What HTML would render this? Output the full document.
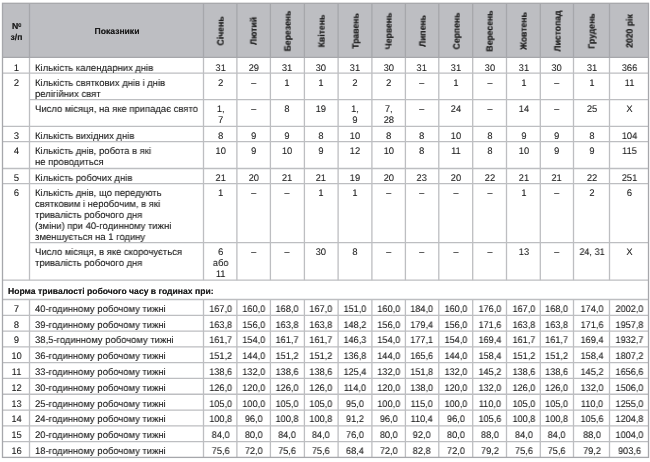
<!DOCTYPE html>
<html><head><meta charset="utf-8"><style>
html,body{margin:0;padding:0;background:#fff;width:650px;height:462px;overflow:hidden;position:relative}
svg{position:absolute;left:0;top:0}
.t,.h{position:absolute;will-change:transform;text-rendering:geometricPrecision;font-family:"Liberation Sans",sans-serif;color:#1e1e1e;white-space:nowrap}
.t{font-size:9.6px;line-height:10.8px;text-shadow:0 0 0.5px rgba(0,0,0,.35)}
.n{transform:scaleX(0.95);text-align:center} .c{transform-origin:50% 0}
.lb{transform:scaleX(0.985)} .l{transform-origin:0 0}
.h{font-size:8.6px;font-weight:bold;line-height:10.8px;text-shadow:0 0 0.6px rgba(0,0,0,.6)}
.rot{font-size:9.2px;transform:translate(-50%,-50%) rotate(-90deg) scaleX(0.94);transform-origin:50% 50%}
</style></head><body>
<svg width="650" height="462" viewBox="0 0 650 462"><rect x="2.5" y="3.3" width="646" height="54.1" fill="#bdbec2"/><line x1="29.5" y1="3.3" x2="29.5" y2="57.4" stroke="#a6a7ab" stroke-width="1.3"/><line x1="203.5" y1="3.3" x2="203.5" y2="57.4" stroke="#a6a7ab" stroke-width="1.3"/><line x1="236.9" y1="3.3" x2="236.9" y2="57.4" stroke="#a6a7ab" stroke-width="1.3"/><line x1="270.4" y1="3.3" x2="270.4" y2="57.4" stroke="#a6a7ab" stroke-width="1.3"/><line x1="304.4" y1="3.3" x2="304.4" y2="57.4" stroke="#a6a7ab" stroke-width="1.3"/><line x1="338.1" y1="3.3" x2="338.1" y2="57.4" stroke="#a6a7ab" stroke-width="1.3"/><line x1="371.9" y1="3.3" x2="371.9" y2="57.4" stroke="#a6a7ab" stroke-width="1.3"/><line x1="405.4" y1="3.3" x2="405.4" y2="57.4" stroke="#a6a7ab" stroke-width="1.3"/><line x1="438.8" y1="3.3" x2="438.8" y2="57.4" stroke="#a6a7ab" stroke-width="1.3"/><line x1="472.7" y1="3.3" x2="472.7" y2="57.4" stroke="#a6a7ab" stroke-width="1.3"/><line x1="506.5" y1="3.3" x2="506.5" y2="57.4" stroke="#a6a7ab" stroke-width="1.3"/><line x1="540.3" y1="3.3" x2="540.3" y2="57.4" stroke="#a6a7ab" stroke-width="1.3"/><line x1="573.5" y1="3.3" x2="573.5" y2="57.4" stroke="#a6a7ab" stroke-width="1.3"/><line x1="609.5" y1="3.3" x2="609.5" y2="57.4" stroke="#a6a7ab" stroke-width="1.3"/><line x1="29.5" y1="57.4" x2="29.5" y2="280.2" stroke="#bdbec1" stroke-width="1.3"/><line x1="29.5" y1="299.5" x2="29.5" y2="457.4" stroke="#bdbec1" stroke-width="1.3"/><line x1="203.5" y1="57.4" x2="203.5" y2="280.2" stroke="#bdbec1" stroke-width="1.3"/><line x1="203.5" y1="299.5" x2="203.5" y2="457.4" stroke="#bdbec1" stroke-width="1.3"/><line x1="236.9" y1="57.4" x2="236.9" y2="280.2" stroke="#bdbec1" stroke-width="1.3"/><line x1="236.9" y1="299.5" x2="236.9" y2="457.4" stroke="#bdbec1" stroke-width="1.3"/><line x1="270.4" y1="57.4" x2="270.4" y2="280.2" stroke="#bdbec1" stroke-width="1.3"/><line x1="270.4" y1="299.5" x2="270.4" y2="457.4" stroke="#bdbec1" stroke-width="1.3"/><line x1="304.4" y1="57.4" x2="304.4" y2="280.2" stroke="#bdbec1" stroke-width="1.3"/><line x1="304.4" y1="299.5" x2="304.4" y2="457.4" stroke="#bdbec1" stroke-width="1.3"/><line x1="338.1" y1="57.4" x2="338.1" y2="280.2" stroke="#bdbec1" stroke-width="1.3"/><line x1="338.1" y1="299.5" x2="338.1" y2="457.4" stroke="#bdbec1" stroke-width="1.3"/><line x1="371.9" y1="57.4" x2="371.9" y2="280.2" stroke="#bdbec1" stroke-width="1.3"/><line x1="371.9" y1="299.5" x2="371.9" y2="457.4" stroke="#bdbec1" stroke-width="1.3"/><line x1="405.4" y1="57.4" x2="405.4" y2="280.2" stroke="#bdbec1" stroke-width="1.3"/><line x1="405.4" y1="299.5" x2="405.4" y2="457.4" stroke="#bdbec1" stroke-width="1.3"/><line x1="438.8" y1="57.4" x2="438.8" y2="280.2" stroke="#bdbec1" stroke-width="1.3"/><line x1="438.8" y1="299.5" x2="438.8" y2="457.4" stroke="#bdbec1" stroke-width="1.3"/><line x1="472.7" y1="57.4" x2="472.7" y2="280.2" stroke="#bdbec1" stroke-width="1.3"/><line x1="472.7" y1="299.5" x2="472.7" y2="457.4" stroke="#bdbec1" stroke-width="1.3"/><line x1="506.5" y1="57.4" x2="506.5" y2="280.2" stroke="#bdbec1" stroke-width="1.3"/><line x1="506.5" y1="299.5" x2="506.5" y2="457.4" stroke="#bdbec1" stroke-width="1.3"/><line x1="540.3" y1="57.4" x2="540.3" y2="280.2" stroke="#bdbec1" stroke-width="1.3"/><line x1="540.3" y1="299.5" x2="540.3" y2="457.4" stroke="#bdbec1" stroke-width="1.3"/><line x1="573.5" y1="57.4" x2="573.5" y2="280.2" stroke="#bdbec1" stroke-width="1.3"/><line x1="573.5" y1="299.5" x2="573.5" y2="457.4" stroke="#bdbec1" stroke-width="1.3"/><line x1="609.5" y1="57.4" x2="609.5" y2="280.2" stroke="#bdbec1" stroke-width="1.3"/><line x1="609.5" y1="299.5" x2="609.5" y2="457.4" stroke="#bdbec1" stroke-width="1.3"/><line x1="2.5" y1="73.1" x2="648.5" y2="73.1" stroke="#bdbec1" stroke-width="1.3"/><line x1="2.5" y1="126.3" x2="648.5" y2="126.3" stroke="#bdbec1" stroke-width="1.3"/><line x1="2.5" y1="141.7" x2="648.5" y2="141.7" stroke="#bdbec1" stroke-width="1.3"/><line x1="2.5" y1="168.5" x2="648.5" y2="168.5" stroke="#bdbec1" stroke-width="1.3"/><line x1="2.5" y1="183.6" x2="648.5" y2="183.6" stroke="#bdbec1" stroke-width="1.3"/><line x1="2.5" y1="280.2" x2="648.5" y2="280.2" stroke="#bdbec1" stroke-width="1.3"/><line x1="2.5" y1="299.5" x2="648.5" y2="299.5" stroke="#bdbec1" stroke-width="1.3"/><line x1="2.5" y1="315.29" x2="648.5" y2="315.29" stroke="#bdbec1" stroke-width="1.3"/><line x1="2.5" y1="331.08" x2="648.5" y2="331.08" stroke="#bdbec1" stroke-width="1.3"/><line x1="2.5" y1="346.87" x2="648.5" y2="346.87" stroke="#bdbec1" stroke-width="1.3"/><line x1="2.5" y1="362.66" x2="648.5" y2="362.66" stroke="#bdbec1" stroke-width="1.3"/><line x1="2.5" y1="378.45" x2="648.5" y2="378.45" stroke="#bdbec1" stroke-width="1.3"/><line x1="2.5" y1="394.24" x2="648.5" y2="394.24" stroke="#bdbec1" stroke-width="1.3"/><line x1="2.5" y1="410.03" x2="648.5" y2="410.03" stroke="#bdbec1" stroke-width="1.3"/><line x1="2.5" y1="425.82" x2="648.5" y2="425.82" stroke="#bdbec1" stroke-width="1.3"/><line x1="2.5" y1="441.61" x2="648.5" y2="441.61" stroke="#bdbec1" stroke-width="1.3"/><line x1="29.5" y1="99.6" x2="648.5" y2="99.6" stroke="#bdbec1" stroke-width="1.3"/><line x1="29.5" y1="242.7" x2="648.5" y2="242.7" stroke="#bdbec1" stroke-width="1.3"/><line x1="2.5" y1="57.4" x2="648.5" y2="57.4" stroke="#a6a7ab" stroke-width="1.3"/><rect x="2.5" y="3.3" width="646" height="454.1" fill="none" stroke="#a6a7ab" stroke-width="1.3"/></svg>
<div class="h" style="left:12.1px;top:21px">N</div><div class="h" style="left:17.6px;top:20px;font-size:7.2px;transform:scaleX(0.8);transform-origin:0 0">o</div><div class="h" style="left:2.5px;width:27px;top:32px;text-align:center">з/п</div><div class="h" style="left:29.5px;width:174px;top:26px;text-align:center">Показники</div><div class="h rot" style="left:221px;top:30.55px">Січень</div><div class="h rot" style="left:254.45px;top:30.55px">Лютий</div><div class="h rot" style="left:288.2px;top:30.55px">Березень</div><div class="h rot" style="left:322.05px;top:30.55px">Квітень</div><div class="h rot" style="left:355.8px;top:30.55px">Травень</div><div class="h rot" style="left:389.45px;top:30.55px">Червень</div><div class="h rot" style="left:422.9px;top:30.55px">Липень</div><div class="h rot" style="left:456.55px;top:30.55px">Серпень</div><div class="h rot" style="left:490.4px;top:30.55px">Вересень</div><div class="h rot" style="left:524.2px;top:30.55px">Жовтень</div><div class="h rot" style="left:557.7px;top:30.55px">Листопад</div><div class="h rot" style="left:592.3px;top:30.55px">Грудень</div><div class="h rot" style="left:629.8px;top:30.55px">2020 рік</div><div class="t n c" style="left:2.5px;width:27px;top:64px">1</div><div class="t lb l" style="left:35.2px;top:64px">Кількість календарних днів</div><div class="t n c" style="left:203.5px;width:33.4px;top:64px">31</div><div class="t n c" style="left:236.9px;width:33.5px;top:64px">29</div><div class="t n c" style="left:270.4px;width:34px;top:64px">31</div><div class="t n c" style="left:304.4px;width:33.7px;top:64px">30</div><div class="t n c" style="left:338.1px;width:33.8px;top:64px">31</div><div class="t n c" style="left:371.9px;width:33.5px;top:64px">30</div><div class="t n c" style="left:405.4px;width:33.4px;top:64px">31</div><div class="t n c" style="left:438.8px;width:33.9px;top:64px">31</div><div class="t n c" style="left:472.7px;width:33.8px;top:64px">30</div><div class="t n c" style="left:506.5px;width:33.8px;top:64px">31</div><div class="t n c" style="left:540.3px;width:33.2px;top:64px">30</div><div class="t n c" style="left:573.5px;width:36px;top:64px">31</div><div class="t n c" style="left:609.5px;width:39px;top:64px">366</div><div class="t n c" style="left:2.5px;width:27px;top:79px">2</div><div class="t lb l" style="left:35.2px;top:79px">Кількість святкових днів і днів</div><div class="t lb l" style="left:35.2px;top:90px">релігійних свят</div><div class="t n c" style="left:203.5px;width:33.4px;top:79px">2</div><div class="t n c" style="left:236.9px;width:33.5px;top:79px">–</div><div class="t n c" style="left:270.4px;width:34px;top:79px">1</div><div class="t n c" style="left:304.4px;width:33.7px;top:79px">1</div><div class="t n c" style="left:338.1px;width:33.8px;top:79px">2</div><div class="t n c" style="left:371.9px;width:33.5px;top:79px">2</div><div class="t n c" style="left:405.4px;width:33.4px;top:79px">–</div><div class="t n c" style="left:438.8px;width:33.9px;top:79px">1</div><div class="t n c" style="left:472.7px;width:33.8px;top:79px">–</div><div class="t n c" style="left:506.5px;width:33.8px;top:79px">1</div><div class="t n c" style="left:540.3px;width:33.2px;top:79px">–</div><div class="t n c" style="left:573.5px;width:36px;top:79px">1</div><div class="t n c" style="left:609.5px;width:39px;top:79px">11</div><div class="t lb l" style="left:35.2px;top:105px">Число місяця, на яке припадає свято</div><div class="t n c" style="left:203.5px;width:33.4px;top:105px">1,</div><div class="t n c" style="left:203.5px;width:33.4px;top:116px">7</div><div class="t n c" style="left:236.9px;width:33.5px;top:105px">–</div><div class="t n c" style="left:270.4px;width:34px;top:105px">8</div><div class="t n c" style="left:304.4px;width:33.7px;top:105px">19</div><div class="t n c" style="left:338.1px;width:33.8px;top:105px">1,</div><div class="t n c" style="left:338.1px;width:33.8px;top:116px">9</div><div class="t n c" style="left:371.9px;width:33.5px;top:105px">7,</div><div class="t n c" style="left:371.9px;width:33.5px;top:116px">28</div><div class="t n c" style="left:405.4px;width:33.4px;top:105px">–</div><div class="t n c" style="left:438.8px;width:33.9px;top:105px">24</div><div class="t n c" style="left:472.7px;width:33.8px;top:105px">–</div><div class="t n c" style="left:506.5px;width:33.8px;top:105px">14</div><div class="t n c" style="left:540.3px;width:33.2px;top:105px">–</div><div class="t n c" style="left:573.5px;width:36px;top:105px">25</div><div class="t n c" style="left:609.5px;width:39px;top:105px">X</div><div class="t n c" style="left:2.5px;width:27px;top:132px">3</div><div class="t lb l" style="left:35.2px;top:132px">Кількість вихідних днів</div><div class="t n c" style="left:203.5px;width:33.4px;top:132px">8</div><div class="t n c" style="left:236.9px;width:33.5px;top:132px">9</div><div class="t n c" style="left:270.4px;width:34px;top:132px">9</div><div class="t n c" style="left:304.4px;width:33.7px;top:132px">8</div><div class="t n c" style="left:338.1px;width:33.8px;top:132px">10</div><div class="t n c" style="left:371.9px;width:33.5px;top:132px">8</div><div class="t n c" style="left:405.4px;width:33.4px;top:132px">8</div><div class="t n c" style="left:438.8px;width:33.9px;top:132px">10</div><div class="t n c" style="left:472.7px;width:33.8px;top:132px">8</div><div class="t n c" style="left:506.5px;width:33.8px;top:132px">9</div><div class="t n c" style="left:540.3px;width:33.2px;top:132px">9</div><div class="t n c" style="left:573.5px;width:36px;top:132px">8</div><div class="t n c" style="left:609.5px;width:39px;top:132px">104</div><div class="t n c" style="left:2.5px;width:27px;top:147px">4</div><div class="t lb l" style="left:35.2px;top:147px">Кількість днів, робота в які</div><div class="t lb l" style="left:35.2px;top:158px">не проводиться</div><div class="t n c" style="left:203.5px;width:33.4px;top:147px">10</div><div class="t n c" style="left:236.9px;width:33.5px;top:147px">9</div><div class="t n c" style="left:270.4px;width:34px;top:147px">10</div><div class="t n c" style="left:304.4px;width:33.7px;top:147px">9</div><div class="t n c" style="left:338.1px;width:33.8px;top:147px">12</div><div class="t n c" style="left:371.9px;width:33.5px;top:147px">10</div><div class="t n c" style="left:405.4px;width:33.4px;top:147px">8</div><div class="t n c" style="left:438.8px;width:33.9px;top:147px">11</div><div class="t n c" style="left:472.7px;width:33.8px;top:147px">8</div><div class="t n c" style="left:506.5px;width:33.8px;top:147px">10</div><div class="t n c" style="left:540.3px;width:33.2px;top:147px">9</div><div class="t n c" style="left:573.5px;width:36px;top:147px">9</div><div class="t n c" style="left:609.5px;width:39px;top:147px">115</div><div class="t n c" style="left:2.5px;width:27px;top:174px">5</div><div class="t lb l" style="left:35.2px;top:174px">Кількість робочих днів</div><div class="t n c" style="left:203.5px;width:33.4px;top:174px">21</div><div class="t n c" style="left:236.9px;width:33.5px;top:174px">20</div><div class="t n c" style="left:270.4px;width:34px;top:174px">21</div><div class="t n c" style="left:304.4px;width:33.7px;top:174px">21</div><div class="t n c" style="left:338.1px;width:33.8px;top:174px">19</div><div class="t n c" style="left:371.9px;width:33.5px;top:174px">20</div><div class="t n c" style="left:405.4px;width:33.4px;top:174px">23</div><div class="t n c" style="left:438.8px;width:33.9px;top:174px">20</div><div class="t n c" style="left:472.7px;width:33.8px;top:174px">22</div><div class="t n c" style="left:506.5px;width:33.8px;top:174px">21</div><div class="t n c" style="left:540.3px;width:33.2px;top:174px">21</div><div class="t n c" style="left:573.5px;width:36px;top:174px">22</div><div class="t n c" style="left:609.5px;width:39px;top:174px">251</div><div class="t n c" style="left:2.5px;width:27px;top:189px">6</div><div class="t lb l" style="left:35.2px;top:189px">Кількість днів, що передують</div><div class="t lb l" style="left:35.2px;top:200px">святковим і неробочим, в які</div><div class="t lb l" style="left:35.2px;top:211px">тривалість робочого дня</div><div class="t lb l" style="left:35.2px;top:222px">(зміни) при 40-годинному тижні</div><div class="t lb l" style="left:35.2px;top:233px">зменшується на 1 годину</div><div class="t n c" style="left:203.5px;width:33.4px;top:189px">1</div><div class="t n c" style="left:236.9px;width:33.5px;top:189px">–</div><div class="t n c" style="left:270.4px;width:34px;top:189px">–</div><div class="t n c" style="left:304.4px;width:33.7px;top:189px">1</div><div class="t n c" style="left:338.1px;width:33.8px;top:189px">1</div><div class="t n c" style="left:371.9px;width:33.5px;top:189px">–</div><div class="t n c" style="left:405.4px;width:33.4px;top:189px">–</div><div class="t n c" style="left:438.8px;width:33.9px;top:189px">–</div><div class="t n c" style="left:472.7px;width:33.8px;top:189px">–</div><div class="t n c" style="left:506.5px;width:33.8px;top:189px">1</div><div class="t n c" style="left:540.3px;width:33.2px;top:189px">–</div><div class="t n c" style="left:573.5px;width:36px;top:189px">2</div><div class="t n c" style="left:609.5px;width:39px;top:189px">6</div><div class="t lb l" style="left:35.2px;top:248px">Число місяця, в яке скорочується</div><div class="t lb l" style="left:35.2px;top:259px">тривалість робочого дня</div><div class="t n c" style="left:203.5px;width:33.4px;top:248px">6</div><div class="t n c" style="left:203.5px;width:33.4px;top:259px">або</div><div class="t n c" style="left:203.5px;width:33.4px;top:270px">11</div><div class="t n c" style="left:236.9px;width:33.5px;top:248px">–</div><div class="t n c" style="left:270.4px;width:34px;top:248px">–</div><div class="t n c" style="left:304.4px;width:33.7px;top:248px">30</div><div class="t n c" style="left:338.1px;width:33.8px;top:248px">8</div><div class="t n c" style="left:371.9px;width:33.5px;top:248px">–</div><div class="t n c" style="left:405.4px;width:33.4px;top:248px">–</div><div class="t n c" style="left:438.8px;width:33.9px;top:248px">–</div><div class="t n c" style="left:472.7px;width:33.8px;top:248px">–</div><div class="t n c" style="left:506.5px;width:33.8px;top:248px">13</div><div class="t n c" style="left:540.3px;width:33.2px;top:248px">–</div><div class="t n c" style="left:573.5px;width:36px;top:248px">24, 31</div><div class="t n c" style="left:609.5px;width:39px;top:248px">X</div><div class="h" style="left:8.2px;top:286px">Норма тривалості робочого часу в годинах при:</div><div class="t n c" style="left:2.5px;width:27px;top:305px">7</div><div class="t lb l" style="left:35.2px;top:305px">40-годинному робочому тижні</div><div class="t n c" style="left:203.5px;width:33.4px;top:305px">167,0</div><div class="t n c" style="left:236.9px;width:33.5px;top:305px">160,0</div><div class="t n c" style="left:270.4px;width:34px;top:305px">168,0</div><div class="t n c" style="left:304.4px;width:33.7px;top:305px">167,0</div><div class="t n c" style="left:338.1px;width:33.8px;top:305px">151,0</div><div class="t n c" style="left:371.9px;width:33.5px;top:305px">160,0</div><div class="t n c" style="left:405.4px;width:33.4px;top:305px">184,0</div><div class="t n c" style="left:438.8px;width:33.9px;top:305px">160,0</div><div class="t n c" style="left:472.7px;width:33.8px;top:305px">176,0</div><div class="t n c" style="left:506.5px;width:33.8px;top:305px">167,0</div><div class="t n c" style="left:540.3px;width:33.2px;top:305px">168,0</div><div class="t n c" style="left:573.5px;width:36px;top:305px">174,0</div><div class="t n c" style="left:609.5px;width:39px;top:305px">2002,0</div><div class="t n c" style="left:2.5px;width:27px;top:321px">8</div><div class="t lb l" style="left:35.2px;top:321px">39-годинному робочому тижні</div><div class="t n c" style="left:203.5px;width:33.4px;top:321px">163,8</div><div class="t n c" style="left:236.9px;width:33.5px;top:321px">156,0</div><div class="t n c" style="left:270.4px;width:34px;top:321px">163,8</div><div class="t n c" style="left:304.4px;width:33.7px;top:321px">163,8</div><div class="t n c" style="left:338.1px;width:33.8px;top:321px">148,2</div><div class="t n c" style="left:371.9px;width:33.5px;top:321px">156,0</div><div class="t n c" style="left:405.4px;width:33.4px;top:321px">179,4</div><div class="t n c" style="left:438.8px;width:33.9px;top:321px">156,0</div><div class="t n c" style="left:472.7px;width:33.8px;top:321px">171,6</div><div class="t n c" style="left:506.5px;width:33.8px;top:321px">163,8</div><div class="t n c" style="left:540.3px;width:33.2px;top:321px">163,8</div><div class="t n c" style="left:573.5px;width:36px;top:321px">171,6</div><div class="t n c" style="left:609.5px;width:39px;top:321px">1957,8</div><div class="t n c" style="left:2.5px;width:27px;top:336px">9</div><div class="t lb l" style="left:35.2px;top:336px">38,5-годинному робочому тижні</div><div class="t n c" style="left:203.5px;width:33.4px;top:336px">161,7</div><div class="t n c" style="left:236.9px;width:33.5px;top:336px">154,0</div><div class="t n c" style="left:270.4px;width:34px;top:336px">161,7</div><div class="t n c" style="left:304.4px;width:33.7px;top:336px">161,7</div><div class="t n c" style="left:338.1px;width:33.8px;top:336px">146,3</div><div class="t n c" style="left:371.9px;width:33.5px;top:336px">154,0</div><div class="t n c" style="left:405.4px;width:33.4px;top:336px">177,1</div><div class="t n c" style="left:438.8px;width:33.9px;top:336px">154,0</div><div class="t n c" style="left:472.7px;width:33.8px;top:336px">169,4</div><div class="t n c" style="left:506.5px;width:33.8px;top:336px">161,7</div><div class="t n c" style="left:540.3px;width:33.2px;top:336px">161,7</div><div class="t n c" style="left:573.5px;width:36px;top:336px">169,4</div><div class="t n c" style="left:609.5px;width:39px;top:336px">1932,7</div><div class="t n c" style="left:2.5px;width:27px;top:352px">10</div><div class="t lb l" style="left:35.2px;top:352px">36-годинному робочому тижні</div><div class="t n c" style="left:203.5px;width:33.4px;top:352px">151,2</div><div class="t n c" style="left:236.9px;width:33.5px;top:352px">144,0</div><div class="t n c" style="left:270.4px;width:34px;top:352px">151,2</div><div class="t n c" style="left:304.4px;width:33.7px;top:352px">151,2</div><div class="t n c" style="left:338.1px;width:33.8px;top:352px">136,8</div><div class="t n c" style="left:371.9px;width:33.5px;top:352px">144,0</div><div class="t n c" style="left:405.4px;width:33.4px;top:352px">165,6</div><div class="t n c" style="left:438.8px;width:33.9px;top:352px">144,0</div><div class="t n c" style="left:472.7px;width:33.8px;top:352px">158,4</div><div class="t n c" style="left:506.5px;width:33.8px;top:352px">151,2</div><div class="t n c" style="left:540.3px;width:33.2px;top:352px">151,2</div><div class="t n c" style="left:573.5px;width:36px;top:352px">158,4</div><div class="t n c" style="left:609.5px;width:39px;top:352px">1807,2</div><div class="t n c" style="left:2.5px;width:27px;top:368px">11</div><div class="t lb l" style="left:35.2px;top:368px">33-годинному робочому тижні</div><div class="t n c" style="left:203.5px;width:33.4px;top:368px">138,6</div><div class="t n c" style="left:236.9px;width:33.5px;top:368px">132,0</div><div class="t n c" style="left:270.4px;width:34px;top:368px">138,6</div><div class="t n c" style="left:304.4px;width:33.7px;top:368px">138,6</div><div class="t n c" style="left:338.1px;width:33.8px;top:368px">125,4</div><div class="t n c" style="left:371.9px;width:33.5px;top:368px">132,0</div><div class="t n c" style="left:405.4px;width:33.4px;top:368px">151,8</div><div class="t n c" style="left:438.8px;width:33.9px;top:368px">132,0</div><div class="t n c" style="left:472.7px;width:33.8px;top:368px">145,2</div><div class="t n c" style="left:506.5px;width:33.8px;top:368px">138,6</div><div class="t n c" style="left:540.3px;width:33.2px;top:368px">138,6</div><div class="t n c" style="left:573.5px;width:36px;top:368px">145,2</div><div class="t n c" style="left:609.5px;width:39px;top:368px">1656,6</div><div class="t n c" style="left:2.5px;width:27px;top:384px">12</div><div class="t lb l" style="left:35.2px;top:384px">30-годинному робочому тижні</div><div class="t n c" style="left:203.5px;width:33.4px;top:384px">126,0</div><div class="t n c" style="left:236.9px;width:33.5px;top:384px">120,0</div><div class="t n c" style="left:270.4px;width:34px;top:384px">126,0</div><div class="t n c" style="left:304.4px;width:33.7px;top:384px">126,0</div><div class="t n c" style="left:338.1px;width:33.8px;top:384px">114,0</div><div class="t n c" style="left:371.9px;width:33.5px;top:384px">120,0</div><div class="t n c" style="left:405.4px;width:33.4px;top:384px">138,0</div><div class="t n c" style="left:438.8px;width:33.9px;top:384px">120,0</div><div class="t n c" style="left:472.7px;width:33.8px;top:384px">132,0</div><div class="t n c" style="left:506.5px;width:33.8px;top:384px">126,0</div><div class="t n c" style="left:540.3px;width:33.2px;top:384px">126,0</div><div class="t n c" style="left:573.5px;width:36px;top:384px">132,0</div><div class="t n c" style="left:609.5px;width:39px;top:384px">1506,0</div><div class="t n c" style="left:2.5px;width:27px;top:400px">13</div><div class="t lb l" style="left:35.2px;top:400px">25-годинному робочому тижні</div><div class="t n c" style="left:203.5px;width:33.4px;top:400px">105,0</div><div class="t n c" style="left:236.9px;width:33.5px;top:400px">100,0</div><div class="t n c" style="left:270.4px;width:34px;top:400px">105,0</div><div class="t n c" style="left:304.4px;width:33.7px;top:400px">105,0</div><div class="t n c" style="left:338.1px;width:33.8px;top:400px">95,0</div><div class="t n c" style="left:371.9px;width:33.5px;top:400px">100,0</div><div class="t n c" style="left:405.4px;width:33.4px;top:400px">115,0</div><div class="t n c" style="left:438.8px;width:33.9px;top:400px">100,0</div><div class="t n c" style="left:472.7px;width:33.8px;top:400px">110,0</div><div class="t n c" style="left:506.5px;width:33.8px;top:400px">105,0</div><div class="t n c" style="left:540.3px;width:33.2px;top:400px">105,0</div><div class="t n c" style="left:573.5px;width:36px;top:400px">110,0</div><div class="t n c" style="left:609.5px;width:39px;top:400px">1255,0</div><div class="t n c" style="left:2.5px;width:27px;top:415px">14</div><div class="t lb l" style="left:35.2px;top:415px">24-годинному робочому тижні</div><div class="t n c" style="left:203.5px;width:33.4px;top:415px">100,8</div><div class="t n c" style="left:236.9px;width:33.5px;top:415px">96,0</div><div class="t n c" style="left:270.4px;width:34px;top:415px">100,8</div><div class="t n c" style="left:304.4px;width:33.7px;top:415px">100,8</div><div class="t n c" style="left:338.1px;width:33.8px;top:415px">91,2</div><div class="t n c" style="left:371.9px;width:33.5px;top:415px">96,0</div><div class="t n c" style="left:405.4px;width:33.4px;top:415px">110,4</div><div class="t n c" style="left:438.8px;width:33.9px;top:415px">96,0</div><div class="t n c" style="left:472.7px;width:33.8px;top:415px">105,6</div><div class="t n c" style="left:506.5px;width:33.8px;top:415px">100,8</div><div class="t n c" style="left:540.3px;width:33.2px;top:415px">100,8</div><div class="t n c" style="left:573.5px;width:36px;top:415px">105,6</div><div class="t n c" style="left:609.5px;width:39px;top:415px">1204,8</div><div class="t n c" style="left:2.5px;width:27px;top:431px">15</div><div class="t lb l" style="left:35.2px;top:431px">20-годинному робочому тижні</div><div class="t n c" style="left:203.5px;width:33.4px;top:431px">84,0</div><div class="t n c" style="left:236.9px;width:33.5px;top:431px">80,0</div><div class="t n c" style="left:270.4px;width:34px;top:431px">84,0</div><div class="t n c" style="left:304.4px;width:33.7px;top:431px">84,0</div><div class="t n c" style="left:338.1px;width:33.8px;top:431px">76,0</div><div class="t n c" style="left:371.9px;width:33.5px;top:431px">80,0</div><div class="t n c" style="left:405.4px;width:33.4px;top:431px">92,0</div><div class="t n c" style="left:438.8px;width:33.9px;top:431px">80,0</div><div class="t n c" style="left:472.7px;width:33.8px;top:431px">88,0</div><div class="t n c" style="left:506.5px;width:33.8px;top:431px">84,0</div><div class="t n c" style="left:540.3px;width:33.2px;top:431px">84,0</div><div class="t n c" style="left:573.5px;width:36px;top:431px">88,0</div><div class="t n c" style="left:609.5px;width:39px;top:431px">1004,0</div><div class="t n c" style="left:2.5px;width:27px;top:447px">16</div><div class="t lb l" style="left:35.2px;top:447px">18-годинному робочому тижні</div><div class="t n c" style="left:203.5px;width:33.4px;top:447px">75,6</div><div class="t n c" style="left:236.9px;width:33.5px;top:447px">72,0</div><div class="t n c" style="left:270.4px;width:34px;top:447px">75,6</div><div class="t n c" style="left:304.4px;width:33.7px;top:447px">75,6</div><div class="t n c" style="left:338.1px;width:33.8px;top:447px">68,4</div><div class="t n c" style="left:371.9px;width:33.5px;top:447px">72,0</div><div class="t n c" style="left:405.4px;width:33.4px;top:447px">82,8</div><div class="t n c" style="left:438.8px;width:33.9px;top:447px">72,0</div><div class="t n c" style="left:472.7px;width:33.8px;top:447px">79,2</div><div class="t n c" style="left:506.5px;width:33.8px;top:447px">75,6</div><div class="t n c" style="left:540.3px;width:33.2px;top:447px">75,6</div><div class="t n c" style="left:573.5px;width:36px;top:447px">79,2</div><div class="t n c" style="left:609.5px;width:39px;top:447px">903,6</div>
</body></html>
